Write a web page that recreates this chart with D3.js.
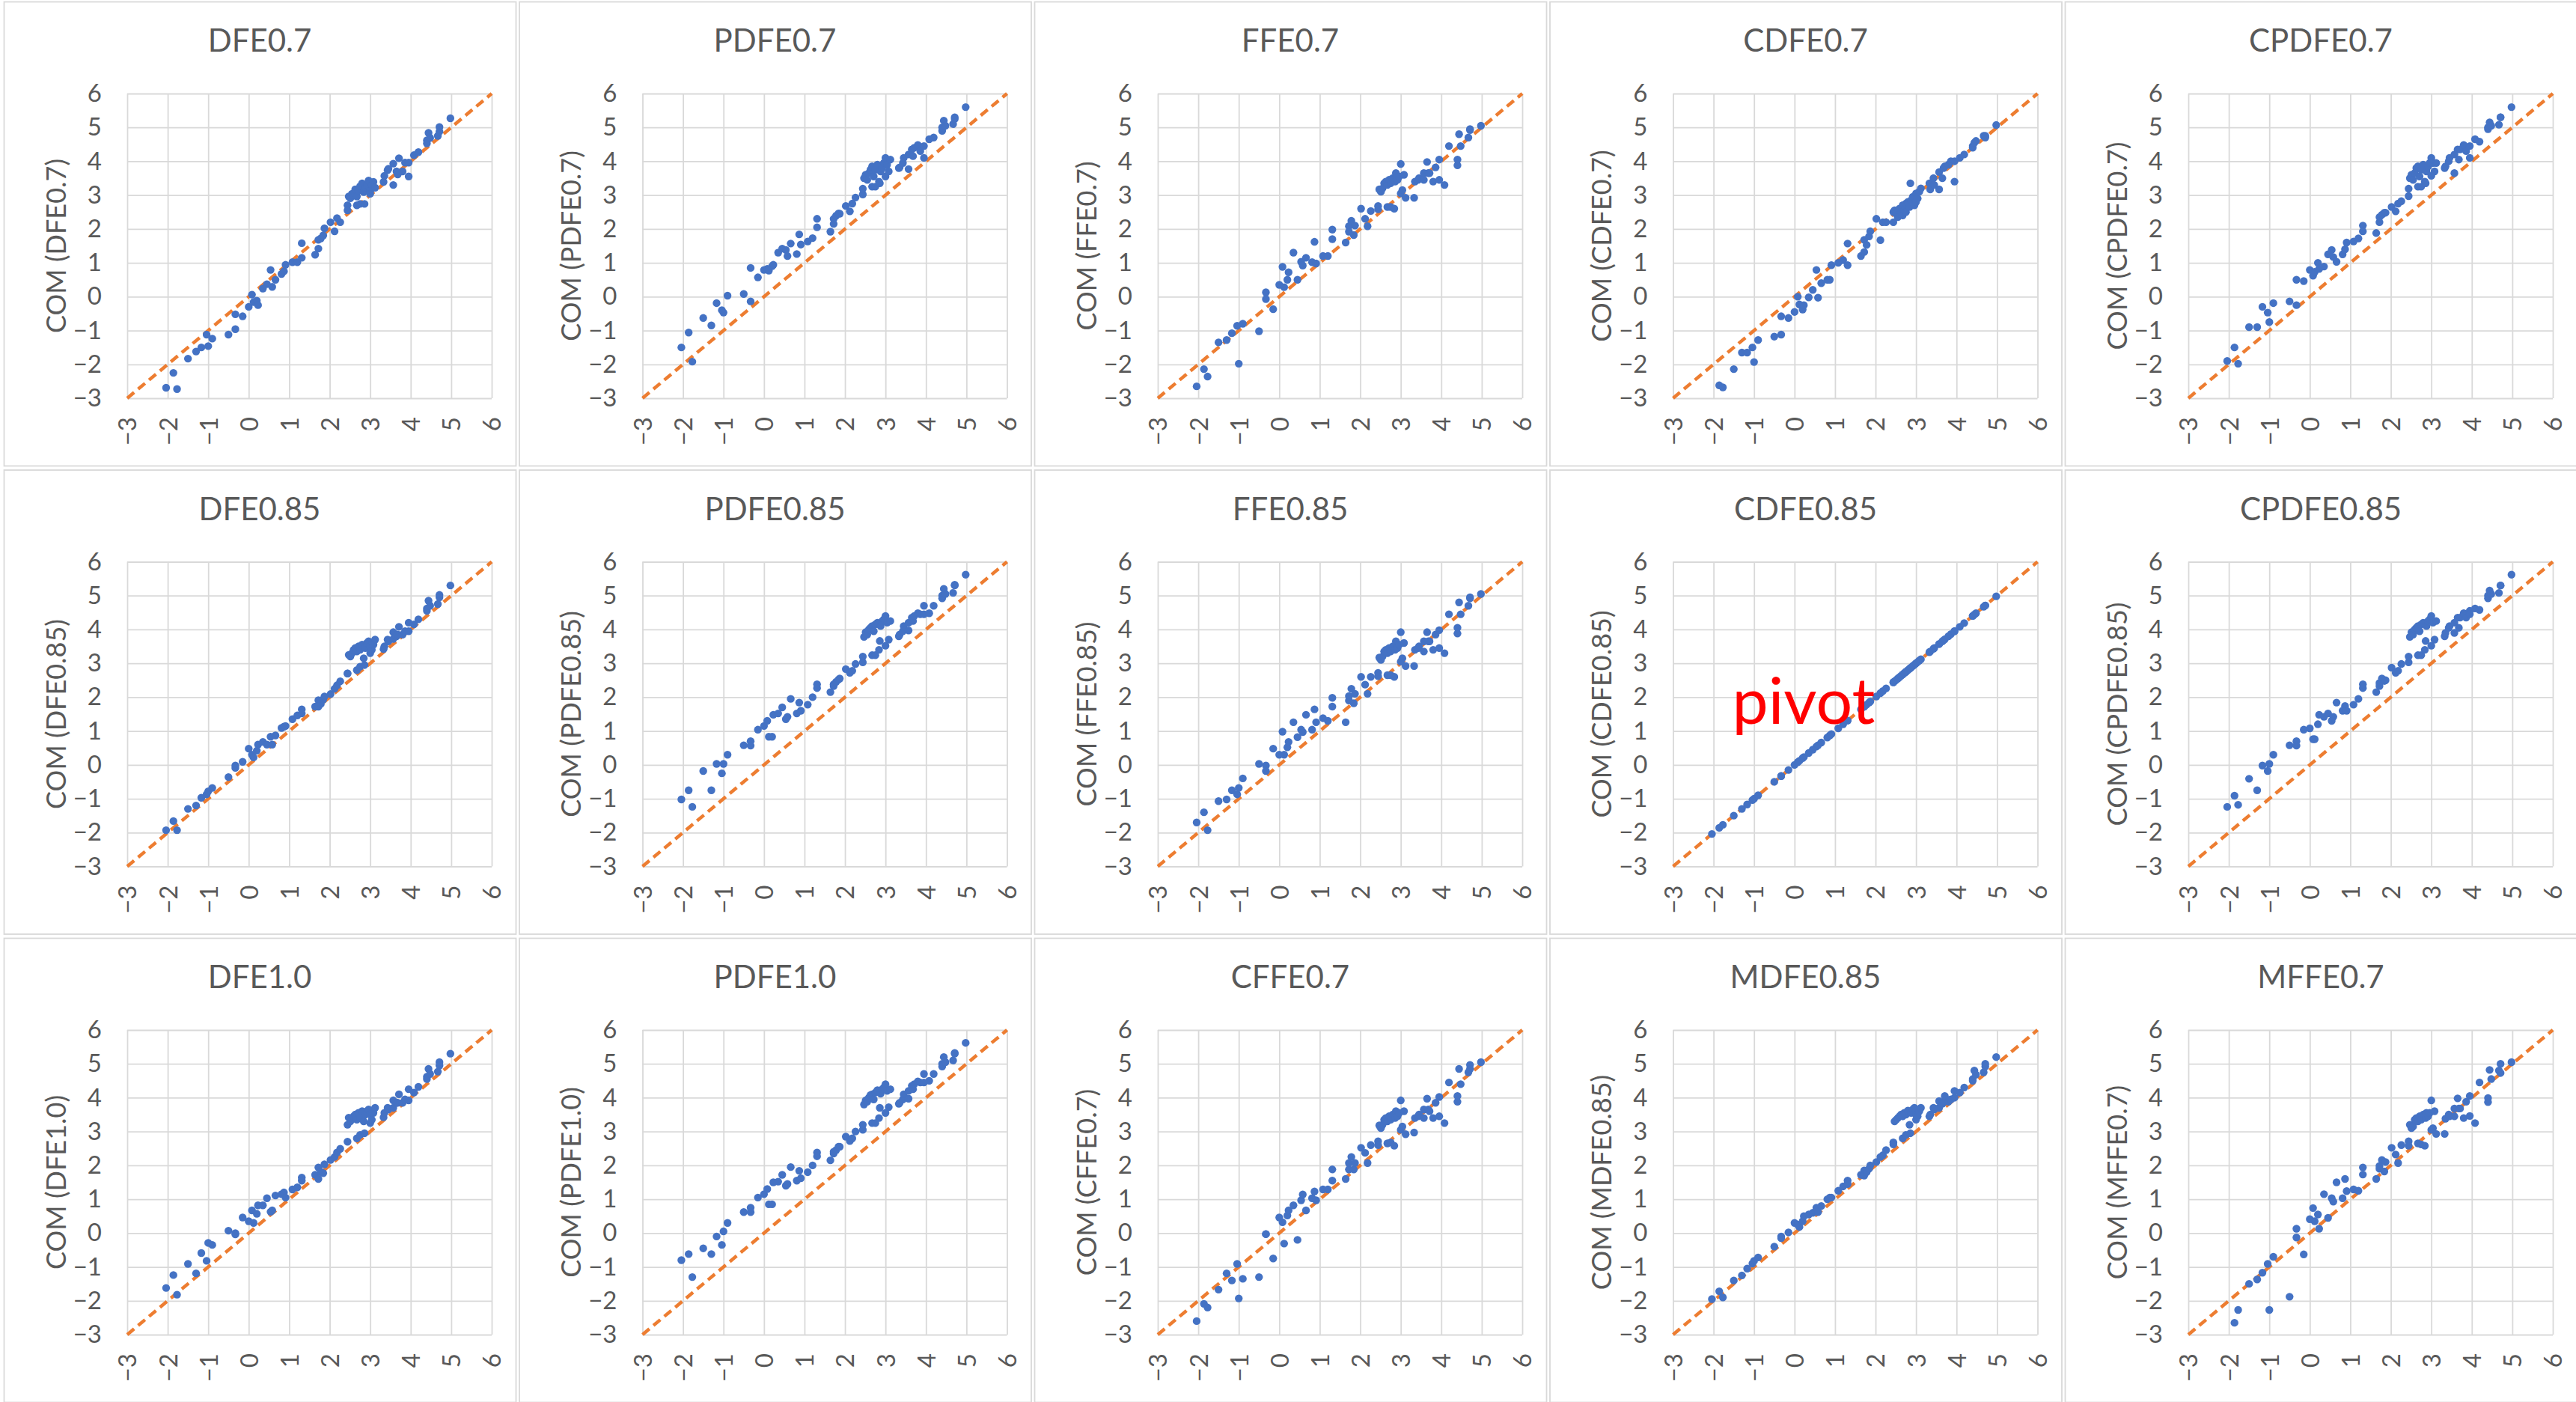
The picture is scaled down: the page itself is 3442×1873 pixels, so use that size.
<!DOCTYPE html>
<html>
<head>
<meta charset="utf-8">
<script src="https://cdn.jsdelivr.net/npm/d3@7"></script>
<style>
  html, body { margin: 0; padding: 0; background: #ffffff; }
  svg { display: block; }
</style>
</head>
<body>
<svg id="chart" width="3442" height="1873"></svg>
<script>
// shared axis ticks for every panel
var ticks = [-3, -2, -1, 0, 1, 2, 3, 4, 5, 6];
var refLine = [-3, 6];

// x values, same molecules in every panel
var xVals = [
  -2.04, -1.86, -1.77, -1.50, -1.30, -1.17, -1.04, -1.00, -0.90, -0.50,
  -0.33, -0.33, -0.15, 0.00, 0.08, 0.12, 0.20, 0.23, 0.35, 0.45,
  0.54, 0.58, 0.66, 0.81, 0.87, 0.91, 1.08, 1.20, 1.31, 1.31,
  1.64, 1.72, 1.72, 1.78, 1.84, 1.87, 2.02, 2.12, 2.18, 2.26,
  2.44, 2.44, 2.47, 2.51, 2.55, 2.59, 2.63, 2.67, 2.67, 2.71,
  2.75, 2.75, 2.80, 2.84, 2.86, 2.88, 2.92, 2.96, 3.00, 3.00,
  3.04, 3.08, 3.12, 3.33, 3.35, 3.43, 3.45, 3.57, 3.57, 3.65,
  3.68, 3.71, 3.80, 3.86, 3.95, 3.95, 4.08, 4.19, 4.40, 4.40,
  4.44, 4.48, 4.67, 4.71, 4.71, 4.98
];

var yDFE07 = [
  -2.69, -2.25, -2.73, -1.83, -1.62, -1.50, -1.12, -1.46, -1.24, -1.12,
  -0.52, -0.96, -0.58, -0.30, 0.06, -0.16, -0.12, -0.25, 0.24, 0.37,
  0.79, 0.29, 0.50, 0.67, 0.75, 0.94, 1.02, 1.02, 1.15, 1.58,
  1.24, 1.42, 1.68, 1.72, 1.81, 2.02, 2.20, 1.93, 2.32, 2.20,
  2.70, 2.55, 2.96, 2.91, 3.04, 3.00, 3.17, 2.96, 2.70, 3.13,
  3.26, 2.74, 3.35, 3.09, 2.74, 3.22, 3.30, 3.43, 3.13, 3.04,
  3.30, 3.39, 3.22, 3.39, 3.57, 3.74, 3.78, 3.93, 3.30, 3.70,
  3.61, 4.09, 3.70, 3.96, 3.55, 3.96, 4.18, 4.27, 4.62, 4.53,
  4.84, 4.69, 4.75, 5.01, 4.88, 5.27
];
var yPDFE07 = [
  -1.50, -1.06, -1.92, -0.63, -0.85, -0.19, -0.40, -0.47, 0.03, 0.08,
  0.85, -0.14, 0.57, 0.79, 0.82, 0.77, 0.90, 0.94, 1.30, 1.42,
  1.38, 1.20, 1.57, 1.26, 1.84, 1.54, 1.63, 1.73, 2.30, 2.05,
  1.92, 2.15, 2.30, 2.39, 2.46, 2.45, 2.68, 2.52, 2.75, 2.93,
  3.02, 3.19, 3.50, 3.60, 3.45, 3.65, 3.75, 3.85, 3.25, 3.55,
  3.25, 3.75, 3.90, 3.40, 3.35, 3.70, 3.80, 3.95, 4.10, 3.55,
  3.90, 3.70, 4.05, 3.80, 3.82, 3.95, 4.10, 3.77, 4.20, 4.35,
  4.15, 4.40, 4.48, 4.30, 4.10, 4.45, 4.65, 4.70, 4.90, 5.00,
  5.20, 5.05, 5.10, 5.30, 5.25, 5.60
];
var yFFE07 = [
  -2.65, -2.14, -2.36, -1.35, -1.28, -1.08, -0.86, -1.98, -0.80, -1.02,
  0.13, -0.07, -0.37, 0.35, 0.88, 0.28, 0.50, 0.72, 1.30, 0.50,
  1.03, 0.92, 1.15, 1.02, 1.62, 0.98, 1.20, 1.20, 1.98, 1.70,
  1.60, 1.92, 2.08, 2.24, 1.82, 2.10, 2.60, 2.30, 2.08, 2.53,
  2.58, 2.68, 3.17, 3.10, 3.20, 3.35, 3.40, 2.65, 3.30, 3.45,
  2.65, 3.35, 3.50, 2.60, 3.40, 3.65, 3.45, 3.55, 3.92, 3.05,
  3.15, 3.60, 2.92, 2.92, 3.40, 3.45, 3.50, 3.65, 3.45, 3.98,
  3.65, 3.65, 3.40, 3.82, 3.45, 4.05, 3.30, 4.45, 3.88, 4.05,
  4.80, 4.45, 4.70, 4.95, 4.92, 5.05
];
var yCDFE07 = [
  null, -2.62, -2.68, -2.14, -1.65, -1.65, -1.50, -1.93, -1.28, -1.18,
  -1.12, -0.58, -0.63, -0.45, 0.00, -0.23, -0.38, -0.25, -0.02, 0.20,
  0.79, -0.03, 0.40, 0.50, 0.50, 0.93, 1.00, 1.08, 1.57, 0.93,
  1.20, 1.32, 1.68, 1.53, 1.78, 1.93, 2.30, 1.67, 2.20, 2.20,
  2.50, 2.20, 2.55, 2.45, 2.35, 2.60, 2.50, 2.70, 2.40, 2.55,
  2.75, 2.50, 2.80, 2.65, 3.35, 2.85, 2.95, 2.70, 3.05, 2.80,
  2.90, 3.10, 3.20, 3.35, 3.17, 3.50, 3.30, 3.17, 3.68, 3.50,
  3.80, 3.85, 3.90, 4.00, 3.40, 4.00, 4.10, 4.20, 4.45, 4.40,
  4.55, 4.60, 4.75, 4.70, 4.75, 5.07
];
var yCPDFE07 = [
  -1.90, -1.50, -1.98, -0.90, -0.90, -0.30, -0.47, -0.75, -0.19, -0.14,
  0.50, -0.25, 0.46, 0.79, 0.62, 0.73, 1.00, 0.82, 0.89, 1.25,
  1.38, 1.17, 1.03, 1.25, 1.40, 1.60, 1.63, 1.72, 2.10, 1.93,
  1.88, 2.20, 2.35, 2.42, 2.48, 2.48, 2.65, 2.52, 2.75, 2.82,
  2.97, 3.19, 3.50, 3.60, 3.45, 3.65, 3.80, 3.85, 3.25, 3.55,
  3.25, 3.75, 3.90, 3.40, 3.35, 3.70, 3.85, 3.95, 4.10, 3.57,
  3.95, 3.70, 3.95, 3.80, 3.85, 4.00, 4.10, 3.65, 4.20, 4.35,
  4.05, 4.35, 4.48, 4.30, 4.10, 4.45, 4.65, 4.58, 4.95, 5.00,
  5.15, 5.05, 5.08, 5.30, 5.30, 5.60
];
var yDFE085 = [
  -1.93, -1.66, -1.93, -1.30, -1.20, -0.97, -0.87, -0.78, -0.68, -0.36,
  -0.02, -0.09, 0.09, 0.48, 0.30, 0.22, 0.42, 0.60, 0.68, 0.60,
  0.83, 0.60, 0.87, 1.09, 1.13, 1.15, 1.35, 1.46, 1.64, 1.52,
  1.72, 1.91, 1.72, 1.80, 1.93, 2.02, 2.09, 2.25, 2.35, 2.47,
  2.70, 2.70, 3.25, 3.20, 3.30, 3.40, 3.45, 2.80, 3.35, 3.50,
  3.40, 2.90, 3.55, 3.15, 2.95, 3.45, 3.60, 3.65, 3.30, 3.50,
  3.40, 3.55, 3.70, 3.42, 3.50, 3.70, 3.65, 3.92, 3.72, 3.80,
  3.85, 4.08, 3.85, 3.95, 4.20, 3.95, 4.15, 4.30, 4.62, 4.55,
  4.85, 4.70, 4.75, 5.02, 4.95, 5.30
];
var yPDFE085 = [
  -1.02, -0.75, -1.24, -0.18, -0.75, 0.03, -0.25, 0.03, 0.30, 0.58,
  0.70, 0.57, 1.04, 1.15, 1.30, 0.83, 0.83, 1.48, 1.52, 1.70,
  1.35, 1.42, 1.95, 1.52, 1.84, 1.60, 1.78, 2.00, 2.27, 2.38,
  2.15, 2.33, 2.38, 2.45, 2.52, 2.55, 2.83, 2.72, 2.78, 2.98,
  3.03, 3.20, 3.78, 3.92, 3.85, 4.00, 4.05, 3.24, 4.10, 3.95,
  3.24, 4.15, 4.20, 3.40, 3.66, 4.10, 4.25, 4.30, 4.40, 3.52,
  4.20, 3.70, 4.25, 3.80, 3.85, 3.95, 4.10, 3.97, 4.20, 4.35,
  4.25, 4.40, 4.48, 4.45, 4.70, 4.45, 4.48, 4.70, 4.92, 5.00,
  5.20, 5.05, 5.08, 5.32, 5.30, 5.62
];
var yFFE085 = [
  -1.70, -1.40, -1.93, -1.07, -1.02, -0.75, -0.87, -0.68, -0.40, 0.03,
  -0.02, -0.18, 0.48, 0.30, 0.98, 0.30, 0.52, 0.68, 1.26, 0.82,
  1.04, 0.97, 1.48, 1.04, 1.64, 1.26, 1.38, 1.30, 1.98, 1.72,
  1.26, 1.90, 2.03, 2.25, 1.82, 2.10, 2.60, 2.37, 2.10, 2.60,
  2.72, 2.62, 3.17, 3.10, 3.20, 3.35, 3.40, 2.65, 3.30, 3.45,
  2.65, 3.35, 3.50, 2.60, 3.40, 3.65, 3.45, 3.55, 3.92, 3.05,
  3.15, 3.60, 2.92, 2.92, 3.40, 3.45, 3.50, 3.65, 3.35, 3.92,
  3.65, 3.65, 3.40, 3.85, 3.45, 3.98, 3.30, 4.45, 3.88, 4.05,
  4.80, 4.45, 4.70, 4.95, 4.92, 5.05
];
var yCDFE085 = [
  -2.04, -1.86, -1.77, -1.50, -1.30, -1.17, -1.04, -1.00, -0.90, -0.50,
  -0.33, -0.33, -0.15, 0.00, 0.08, 0.12, 0.20, 0.23, 0.35, 0.45,
  0.54, 0.58, 0.66, 0.81, 0.87, 0.91, 1.08, 1.20, 1.31, 1.31,
  1.64, 1.72, 1.72, 1.78, 1.84, 1.87, 2.02, 2.12, 2.18, 2.26,
  2.44, 2.44, 2.47, 2.51, 2.55, 2.59, 2.63, 2.67, 2.67, 2.71,
  2.75, 2.75, 2.80, 2.84, 2.86, 2.88, 2.92, 2.96, 3.00, 3.00,
  3.04, 3.08, 3.12, 3.33, 3.35, 3.43, 3.45, 3.57, 3.57, 3.65,
  3.68, 3.71, 3.80, 3.86, 3.95, 3.95, 4.08, 4.19, 4.40, 4.40,
  4.44, 4.48, 4.67, 4.71, 4.71, 4.98
];
var yCPDFE085 = [
  -1.24, -0.91, -1.18, -0.41, -0.75, -0.02, -0.18, 0.03, 0.30, 0.58,
  0.70, 0.57, 1.04, 1.08, 0.76, 0.76, 1.20, 1.48, 1.42, 1.52,
  1.30, 1.42, 1.84, 1.60, 1.74, 1.60, 1.78, 1.95, 2.27, 2.38,
  2.15, 2.33, 2.42, 2.55, 2.48, 2.50, 2.87, 2.72, 2.78, 2.98,
  3.03, 3.20, 3.78, 3.92, 3.85, 4.00, 4.05, 3.24, 4.10, 3.95,
  3.24, 4.15, 4.20, 3.40, 3.66, 4.10, 4.25, 4.30, 4.40, 3.52,
  4.20, 3.70, 4.25, 3.80, 3.90, 4.05, 4.10, 3.90, 4.20, 4.35,
  4.05, 4.35, 4.48, 4.35, 4.55, 4.45, 4.62, 4.58, 4.92, 5.00,
  5.15, 5.05, 5.08, 5.30, 5.30, 5.62
];
var yDFE10 = [
  -1.62, -1.24, -1.82, -0.91, -1.19, -0.59, -0.82, -0.29, -0.35, 0.07,
  0.00, -0.04, 0.46, 0.35, 0.67, 0.30, 0.57, 0.82, 0.82, 1.03,
  0.63, 0.67, 1.11, 1.15, 1.20, 1.05, 1.29, 1.35, 1.64, 1.55,
  1.72, 1.94, 1.60, 1.81, 1.77, 2.03, 2.16, 2.25, 2.38, 2.49,
  2.70, 3.20, 3.41, 3.30, 3.40, 3.45, 3.50, 2.80, 3.35, 3.55,
  3.40, 2.90, 3.60, 3.30, 2.95, 3.50, 3.60, 3.65, 3.25, 3.50,
  3.35, 3.55, 3.70, 3.42, 3.55, 3.70, 3.65, 3.92, 3.70, 3.85,
  3.85, 4.10, 3.85, 3.95, 4.25, 3.92, 4.15, 4.32, 4.62, 4.55,
  4.85, 4.70, 4.77, 5.05, 4.95, 5.30
];
var yPDFE10 = [
  -0.80, -0.62, -1.30, -0.45, -0.62, -0.10, -0.35, 0.05, 0.30, 0.62,
  0.75, 0.62, 1.05, 1.15, 1.30, 0.85, 0.85, 1.50, 1.52, 1.72,
  1.40, 1.45, 1.95, 1.55, 1.84, 1.62, 1.80, 2.00, 2.27, 2.38,
  2.15, 2.35, 2.40, 2.45, 2.55, 2.55, 2.85, 2.72, 2.80, 3.00,
  3.05, 3.20, 3.80, 3.92, 3.88, 4.00, 4.08, 3.25, 4.10, 3.95,
  3.25, 4.15, 4.22, 3.40, 3.70, 4.12, 4.25, 4.30, 4.40, 3.55,
  4.20, 3.72, 4.25, 3.82, 3.85, 3.95, 4.10, 3.97, 4.20, 4.35,
  4.25, 4.40, 4.48, 4.45, 4.70, 4.45, 4.50, 4.70, 4.92, 5.00,
  5.20, 5.05, 5.10, 5.32, 5.30, 5.62
];
var yCFFE07 = [
  -2.60, -2.09, -2.20, -1.67, -1.19, -1.40, -0.91, -1.93, -1.35, -1.30,
  -0.03, -0.03, -0.75, 0.46, 0.32, -0.31, 0.52, 0.67, 0.82, -0.20,
  0.97, 1.14, 0.67, 1.03, 1.23, 0.97, 1.29, 1.29, 1.88, 1.55,
  1.60, 1.88, 2.07, 2.25, 1.88, 2.07, 2.52, 2.37, 2.07, 2.60,
  2.71, 2.60, 3.18, 3.10, 3.20, 3.35, 3.40, 2.65, 3.30, 3.45,
  2.68, 3.35, 3.50, 2.58, 3.40, 3.60, 3.45, 3.55, 3.92, 3.05,
  3.15, 3.60, 2.92, 2.97, 3.40, 3.45, 3.50, 3.65, 3.40, 3.97,
  3.65, 3.60, 3.40, 3.85, 3.45, 4.02, 3.25, 4.45, 3.88, 4.05,
  4.85, 4.40, 4.75, 4.97, 4.85, 5.05
];
var yMDFE085 = [
  -1.95, -1.72, -1.90, -1.40, -1.25, -1.05, -0.90, -0.82, -0.72, -0.40,
  -0.10, -0.15, 0.02, 0.30, 0.25, 0.18, 0.35, 0.50, 0.55, 0.60,
  0.75, 0.62, 0.80, 1.00, 1.05, 1.05, 1.25, 1.38, 1.55, 1.45,
  1.72, 1.85, 1.70, 1.80, 1.90, 2.00, 2.10, 2.25, 2.30, 2.45,
  2.62, 2.68, 3.30, 3.35, 3.40, 3.45, 3.50, 2.80, 3.45, 3.55,
  3.50, 2.90, 3.62, 3.20, 2.95, 3.55, 3.65, 3.70, 3.35, 3.50,
  3.45, 3.60, 3.70, 3.45, 3.50, 3.70, 3.65, 3.90, 3.70, 3.82,
  3.88, 4.05, 3.88, 3.95, 4.20, 4.00, 4.15, 4.30, 4.55, 4.50,
  4.80, 4.68, 4.75, 5.00, 4.92, 5.20
];
var yMFFE07 = [
  null, -2.65, -2.27, -1.50, -1.37, -1.17, -0.91, -2.27, -0.70, -1.88,
  0.13, -0.13, -0.63, 0.41, 0.74, 0.35, 0.55, 0.13, 1.15, 0.45,
  1.03, 0.93, 1.50, 1.03, 1.60, 1.24, 1.29, 1.25, 1.94, 1.73,
  1.60, 1.90, 1.98, 2.16, 1.82, 2.10, 2.52, 2.32, 2.07, 2.60,
  2.71, 2.58, 3.20, 3.10, 3.15, 3.35, 3.40, 2.65, 3.30, 3.45,
  2.62, 3.35, 3.50, 2.58, 3.40, 3.55, 3.45, 3.55, 3.92, 3.05,
  3.10, 3.60, 2.93, 2.93, 3.38, 3.50, 3.45, 3.68, 3.45, 3.98,
  3.68, 3.68, 3.40, 3.88, 3.46, 4.05, 3.25, 4.45, 3.99, 3.87,
  4.82, 4.55, 4.80, 5.00, 4.73, 5.05
];

var titles = [
  'DFE0.7', 'PDFE0.7', 'FFE0.7', 'CDFE0.7', 'CPDFE0.7',
  'DFE0.85', 'PDFE0.85', 'FFE0.85', 'CDFE0.85', 'CPDFE0.85',
  'DFE1.0', 'PDFE1.0', 'CFFE0.7', 'MDFE0.85', 'MFFE0.7'
];
var series = [
  yDFE07, yPDFE07, yFFE07, yCDFE07, yCPDFE07,
  yDFE085, yPDFE085, yFFE085, yCDFE085, yCPDFE085,
  yDFE10, yPDFE10, yCFFE07, yMDFE085, yMFFE07
];

var FONT = 'Lato, "Open Sans", sans-serif';
var TEXT = '#595959';
var GRID = '#d9d9d9';

var cellW = 688.5, cellH = 625.5;
var boxW = 684, boxH = 620;
var plot = { left: 165, top: 123, width: 487, height: 407 };

var svg = d3.select('#chart');

function panel(g, title, yData, idx) {
  var x = d3.scaleLinear().domain([-3, 6]).range([plot.left, plot.left + plot.width]);
  var y = d3.scaleLinear().domain([-3, 6]).range([plot.top + plot.height, plot.top]);

  g.append('rect')
    .attr('x', 0.5)
    .attr('y', 0.5)
    .attr('width', boxW)
    .attr('height', boxH)
    .attr('fill', '#ffffff')
    .attr('stroke', GRID)
    .attr('stroke-width', 1.8);

  // y axis + horizontal grid
  var yAxis = g.append('g')
    .attr('transform', 'translate(' + plot.left + ',0)')
    .call(d3.axisLeft(y).tickValues(ticks).tickSize(-plot.width).tickPadding(34).tickFormat(d3.format('d')));
  yAxis.select('.domain').remove();
  yAxis.selectAll('line').attr('stroke', GRID).attr('stroke-width', 1.8);
  yAxis.selectAll('text')
    .attr('fill', TEXT)
    .style('font-family', FONT)
    .style('font-size', '33px');

  // x axis + vertical grid, labels turned on their side
  var xAxis = g.append('g')
    .attr('transform', 'translate(0,' + (plot.top + plot.height) + ')')
    .call(d3.axisBottom(x).tickValues(ticks).tickSize(-plot.height).tickFormat(d3.format('d')));
  xAxis.select('.domain').remove();
  xAxis.selectAll('line').attr('stroke', GRID).attr('stroke-width', 1.8);
  xAxis.selectAll('text')
    .attr('transform', 'rotate(-90)')
    .attr('x', -25)
    .attr('y', 0)
    .attr('dy', '0.36em')
    .attr('text-anchor', 'end')
    .attr('fill', TEXT)
    .style('font-family', FONT)
    .style('font-size', '33px');

  // y = x reference
  g.append('path')
    .datum(refLine)
    .attr('d', d3.line().x(function(d) { return x(d); }).y(function(d) { return y(d); }))
    .attr('fill', 'none')
    .attr('stroke', '#ED7D31')
    .attr('stroke-width', 4.5)
    .attr('stroke-dasharray', '12,7');

  var pts = xVals.map(function(v, i) { return { x: v, y: yData[i] }; })
    .filter(function(d) { return d.y !== null; });

  g.append('g')
    .selectAll('circle')
    .data(pts)
    .enter()
    .append('circle')
    .attr('cx', function(d) { return x(d.x); })
    .attr('cy', function(d) { return y(d.y); })
    .attr('r', 5.2)
    .attr('fill', '#4472C4');

  g.append('text')
    .attr('x', boxW / 2)
    .attr('y', 67)
    .attr('text-anchor', 'middle')
    .attr('fill', TEXT)
    .style('font-family', FONT)
    .style('font-size', '42px')
    .text(title);

  g.append('text')
    .attr('transform', 'translate(70,' + (plot.top + plot.height / 2) + ') rotate(-90)')
    .attr('dy', '0.35em')
    .attr('text-anchor', 'middle')
    .attr('fill', TEXT)
    .style('font-family', FONT)
    .style('font-size', '36px')
    .text('COM (' + title + ')');

  if (idx === 8) {
    g.append('text')
      .attr('x', 244)
      .attr('y', 339)
      .attr('fill', '#FF0000')
      .style('font-family', FONT)
      .style('font-size', '86px')
      .text('pivot');
  }
}

titles.forEach(function(t, i) {
  var col = i % 5, row = Math.floor(i / 5);
  var g = svg.append('g')
    .attr('transform', 'translate(' + (5 + col * cellW) + ',' + (2 + row * cellH) + ')');
  panel(g, t, series[i], i);
});
</script>
</body>
</html>
